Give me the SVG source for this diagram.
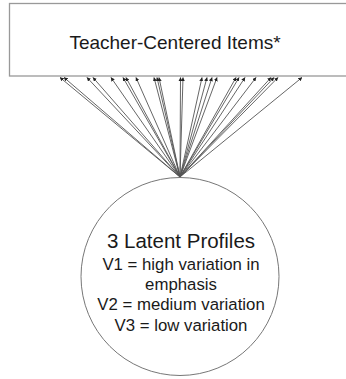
<svg xmlns="http://www.w3.org/2000/svg" width="346" height="379" viewBox="0 0 346 379">
<defs>
<marker id="ah" viewBox="0 0 6 6" refX="5.5" refY="3" markerWidth="4" markerHeight="4" orient="auto" markerUnits="userSpaceOnUse">
<path d="M0,0 L6,3 L0,6 z" fill="#222"/>
</marker>
</defs>
<style>
.box{fill:#fff;stroke:#999;stroke-width:1.3}
.t{font-family:"Liberation Sans",Arial,sans-serif;fill:#1a1a1a;text-anchor:middle}
.c line{stroke:#555;stroke-width:0.9;marker-end:url(#ah)}
</style>
<rect width="346" height="379" fill="#fff"/>
<g id="items">
<rect class="box" x="9.5" y="3.5" width="345" height="72.5"/>
<text class="t" x="175" y="49" font-size="19">Teacher-Centered Items*</text>
</g>
<g id="profiles">
<circle cx="180" cy="276.5" r="99" fill="#fff" stroke="#777" stroke-width="1"/>
<text class="t" x="181" y="248" font-size="20.5">3 Latent Profiles</text>
<text class="t" font-size="16.8"><tspan x="181" y="270">V1 = high variation in</tspan><tspan x="181" y="290">emphasis</tspan><tspan x="181" y="310">V2 = medium variation</tspan><tspan x="181" y="331">V3 = low variation</tspan></text>
</g>
<g id="connectors" class="c">
<line x1="180" y1="177" x2="60" y2="77.5"/>
<line x1="180" y1="177" x2="64" y2="77.5"/>
<line x1="180" y1="177" x2="87" y2="77.5"/>
<line x1="180" y1="177" x2="93" y2="77.5"/>
<line x1="180" y1="177" x2="111" y2="77.5"/>
<line x1="180" y1="177" x2="123" y2="77.5"/>
<line x1="180" y1="177" x2="126" y2="77.5"/>
<line x1="180" y1="177" x2="136" y2="77.5"/>
<line x1="180" y1="177" x2="154" y2="77.5"/>
<line x1="180" y1="177" x2="157" y2="77.5"/>
<line x1="180" y1="177" x2="159" y2="77.5"/>
<line x1="180" y1="177" x2="180.5" y2="77.5"/>
<line x1="180" y1="177" x2="183" y2="77.5"/>
<line x1="180" y1="177" x2="202" y2="77.5"/>
<line x1="180" y1="177" x2="207" y2="77.5"/>
<line x1="180" y1="177" x2="212" y2="77.5"/>
<line x1="180" y1="177" x2="217" y2="77.5"/>
<line x1="180" y1="177" x2="236" y2="77.5"/>
<line x1="180" y1="177" x2="239" y2="77.5"/>
<line x1="180" y1="177" x2="245" y2="77.5"/>
<line x1="180" y1="177" x2="256" y2="77.5"/>
<line x1="180" y1="177" x2="271" y2="77.5"/>
<line x1="180" y1="177" x2="274" y2="77.5"/>
<line x1="180" y1="177" x2="278" y2="77.5"/>
<line x1="180" y1="177" x2="302" y2="77.5"/>
</g>
</svg>
